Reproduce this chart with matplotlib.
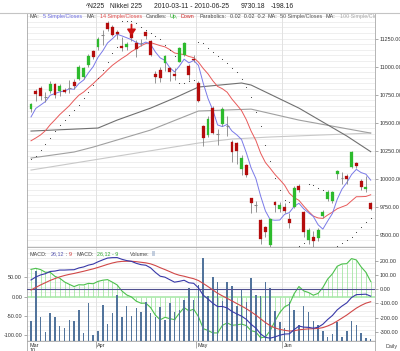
import matplotlib
matplotlib.use("Agg")
import matplotlib.pyplot as plt
import numpy as np
import pandas as pd

plt.rcParams['font.family'] = ['Liberation Sans', 'DejaVu Sans']

W, H = 400, 351
def fx(x): return x / W
def fy(y): return 1 - y / H

# ---------------- data (trading-day index 0 = 2010-03-11) ----------------
month_labels = ["Mar", "Apr", "May", "Jun"]
month_first_idx = [0, 14, 35, 53]

opens = [10620,10781,10810,10730,10780,10845,10780,10795,10810,10865,
         10888,10906,11013,11141,11175,11275,11387,11355,11310,11186,
         11177,11330,11212,11210,11311,11228,10933,10969,11029,10986,
         10930,11045,11103,11004,11070,10853,10468,10388,10630,10400,
         10490,10470,10328,10317,10082,10120,9826,9765,9629,9567,
         9406,9790,9727,9746,9640,9750,9930,9700,9450,9480,
         9465,9670,9820,9800,10037,10007,10025,10103,10135,9977,
         9906,9780]
highs = [10674,10800,10830,10770,10870,10850,10840,10810,10880,10890,
         11010,10995,11110,11150,11260,11330,11410,11370,11330,11260,
         11220,11370,11240,11250,11320,11240,10960,11000,11100,11000,
         10990,11175,11220,11020,11100,10870,10480,10560,10650,10440,
         10640,10560,10340,10330,10210,10130,9830,9800,9640,9580,
         9650,9800,9790,9780,9690,9930,9950,9710,9560,9530,
         9560,9720,9900,9890,10080,10060,10040,10250,10150,10000,
         10020,9790]
lows = [10596,10692,10700,10680,10760,10720,10740,10760,10760,10800,
        10880,10890,11000,11070,11150,11190,11320,11270,11250,11140,
        11150,11230,11087,11180,11250,11090,10850,10860,10960,10870,
        10880,11040,11090,10880,11040,10680,10290,10370,10400,10300,
        10470,10380,10150,10130,10030,10010,9692,9700,9420,9480,
        9390,9703,9700,9690,9560,9740,9880,9480,9420,9380,
        9440,9650,9800,9780,10000,9950,9950,10090,10090,9900,
        9880,9720]
closes = [10664,10751,10735,10721,10846,10744,10824,10774,10815,10828,
          10996,10986,11097,11089,11244,11286,11339,11282,11292,11168,
          11204,11251,11161,11204,11273,11102,10908,10900,11090,10949,
          10914,11165,11212,10924,11057,10695,10364,10530,10411,10394,
          10620,10462,10235,10242,10186,10030,9784,9758,9459,9522,
          9639,9762,9768,9711,9603,9914,9901,9520,9537,9439,
          9542,9705,9879,9879,10067,9999,9995,10238,10112,9923,
          9928,9730]
# closes before the window (for the 5 and 14 day averages)
pre_closes = [10400, 10352, 10199, 10102, 10126, 10172, 10222, 10253,
              10146, 10369, 10586, 10568, 10564]
# parabolic SAR dots (0.02 / 0.02 / 0.2)
parabolic = [10175,10205,10253,10311,10363,10424,10478,10525,10566,10610,
             10655,10719,10771,10839,10901,10973,11044,11117,11176,11410,
             11410,11405,11386,11355,11326,11300,11272,11243,11192,11147,
             11094,10850,10856,10871,10880,11220,11207,11165,11130,11098,
             11063,11028,10990,10950,10892,10815,10725,10590,10465,10300,
             10160,10007,9896,9805,9790,9390,9401,9423,9950,9939,
             9917,9895,9380,9390,9400,9427,9453,9478,9524,9568,
             9609,9647]
volume = [20,70,24,9,28,24,15,13,21,20,
          31,8,38,6,10,36,17,28,46,24,
          35,25,33,29,39,28,24,34,21,38,
          29,31,41,53,41,56,83,45,64,59,
          40,59,55,35,51,39,63,46,45,59,
          53,30,19,13,39,31,16,35,29,20,
          16,10,4,7,19,4,10,20,16,8,
          3,2]
# long averages (index, value)
ma50_idx = [0, 14, 18, 25, 30, 35, 44, 46, 56, 66, 71]
ma50_val = [10424, 10451, 10522, 10629, 10719, 10817, 10853, 10835, 10629, 10380, 10240]
ma100_idx = [0, 9, 13, 25, 35, 46, 56, 71]
ma100_val = [10183, 10237, 10281, 10433, 10603, 10620, 10522, 10406]
ma200_idx = [0, 35, 42, 50, 71]
ma200_val = [10076, 10317, 10353, 10371, 10406]
sell_signal_idx = [21]
# MACD start states
ema12_start, ema26_start, signal_start = 10424, 10358, -5

n = len(closes)
idx = np.arange(n)

# ---------------- derived indicators ----------------
allc = pd.Series(pre_closes + closes, dtype=float)
ma5 = allc.rolling(5).mean().values[len(pre_closes):]
ma14 = allc.rolling(14).mean().values[len(pre_closes):]

ema12, ema26 = [ema12_start], [ema26_start]
for c in closes[1:]:
    ema12.append(ema12[-1] + 2 / 13 * (c - ema12[-1]))
    ema26.append(ema26[-1] + 2 / 27 * (c - ema26[-1]))
macd = np.array(ema12) - np.array(ema26)
sig = [signal_start]
for m in macd[1:]:
    sig.append(sig[-1] + 0.2 * (m - sig[-1]))
sig = np.array(sig)
hist = macd - sig

# ---------------- figure ----------------
fig = plt.figure(figsize=(4.0, 3.51), dpi=100)
fig.patch.set_facecolor('white')
renderer = fig.canvas.get_renderer()
XL = (-0.84, 71.9)
fs_small = 3.9

def seq_text(pieces, x0, y, fs, clip=None):
    x = x0
    for t, col, gap in pieces:
        txt = fig.text(fx(x), fy(y), t, fontsize=fs, color=col, ha='left', va='center')
        if clip is not None:
            txt.set_clip_path(clip)
        bb = txt.get_window_extent(renderer)
        x = bb.x1 + gap

# title
seq_text([("^N225", '#222222', 5), ("Nikkei 225", '#222222', 12),
          ("2010-03-11 - 2010-06-25", '#222222', 12), ("9730.18", '#222222', 5),
          ("-198.16", '#222222', 0)], 86, 6.5, 4.9)
fig.add_artist(plt.Line2D([0, 1], [fy(12.7), fy(12.7)], color='#c4c4c4', lw=0.8))

# main panel
ax = fig.add_axes([fx(27), fy(247), fx(375) - fx(27), fy(13) - fy(247)])
ax.set_xlim(*XL)
ax.set_ylim(9389, 11478)
for v in range(9400, 11500, 50):
    ax.axhline(v, color='#ececec', lw=0.6, zorder=0)
for b in month_first_idx[1:]:
    ax.axvline(b - 0.5, color='#e2e2e2', lw=0.7, zorder=0)
ax.yaxis.tick_right()
ax.set_yticks(range(9500, 11251, 250))
ax.set_yticklabels([f"{v:.2f}" for v in range(9500, 11251, 250)])
ax.tick_params(axis='y', labelsize=fs_small, length=2, width=0.5, color='#888888',
               labelcolor='#333333', pad=1.5)
ax.set_xticks([])
for sp in ax.spines.values():
    sp.set_color('#a8a8a8'); sp.set_linewidth(0.6)
ax.spines['top'].set_visible(False)

ax.plot(ma200_idx, ma200_val, color='#c8c8c8', lw=0.8, zorder=1)
ax.plot(ma100_idx, ma100_val, color='#a0a0a0', lw=0.8, zorder=1)
ax.plot(ma50_idx, ma50_val, color='#707070', lw=0.8, zorder=1)
ax.plot(idx, ma14, color='#e85a5a', lw=0.7, zorder=2)
ax.plot(idx, ma5, color='#7a7ae8', lw=0.7, zorder=2)

for i in range(n):
    o, h, l, c = opens[i], highs[i], lows[i], closes[i]
    ax.vlines(i, l, h, color='#858585', lw=0.6, zorder=3)
    if abs(c - o) < 12:
        ax.hlines((o + c) / 2, i - 0.3, i + 0.3, color='#858585', lw=0.8, zorder=4)
    else:
        col = '#2dbb2d' if c > o else '#b40c0c'
        ax.bar(i, c - o, bottom=o, width=0.6, color=col, edgecolor=col, lw=0.2, zorder=4)

ax.scatter(idx, parabolic, s=0.6, color='#333333', zorder=5, linewidths=0)
for i in sell_signal_idx:
    ax.annotate('', xy=(i, highs[i] - 120), xytext=(i, highs[i] + 30),
                arrowprops=dict(arrowstyle='-|>,head_width=0.25,head_length=0.35',
                                color='#cc1111', lw=1.3), zorder=6)

# main legend
seq_text([("MA:", '#444444', 4), ("5 Simple/Closes", '#6a6ae0', 4), ("MA:", '#444444', 4),
          ("14 Simple/Closes", '#e04848', 4), ("Candles:", '#444444', 2.5),
          ("Up,", '#22aa22', 2.5), ("Down", '#cc2222', 5),
          ("Parabolics:", '#444444', 3), ("0.02  0.02  0.2", '#444444', 3),
          ("MA:", '#444444', 3), ("50 Simple/Closes", '#555555', 3),
          ("MA:", '#444444', 4), ("100 Simple/Closes", '#a8a8a8', 0)],
         29.5, 16.5, fs_small, clip=ax.patch)

# lower panel
am = fig.add_axes([fx(27), fy(341), fx(375) - fx(27), fy(247) - fy(341)])
am.set_xlim(*XL)
am.set_ylim(-115.2, 129.2)
for v in np.arange(-112.5, 129, 12.5):
    am.axhline(v, color='#ececec', lw=0.6, zorder=0)
for b in month_first_idx[1:]:
    am.axvline(b - 0.5, color='#e2e2e2', lw=0.7, zorder=0)
am.set_yticks([-100, -50, 0, 50])
am.set_yticklabels(["-100.00", "-50.00", "0.00", "50.00"])
am.tick_params(axis='y', labelsize=fs_small, length=2, width=0.5, color='#888888',
               labelcolor='#333333', pad=1.5)
am.set_xticks([b - 0.5 for b in month_first_idx[1:]])
am.set_xticklabels([])
am.tick_params(axis='x', length=5, width=0.6, color='#a0a0a0')
for sp in am.spines.values():
    sp.set_color('#a8a8a8'); sp.set_linewidth(0.6)
am.axhline(0, color='#b8ecb8', lw=1.4, zorder=1)
am.vlines(idx, 0, hist, color='#a6e6a6', lw=0.6, zorder=1)
am.plot(idx, hist, color='#4cc04c', lw=0.8, zorder=4)

av = am.twinx()
av.set_ylim(0, 94)
av.set_yticks([])
av.bar(idx, volume, width=0.32, color='#52749c', zorder=3)
for sp in av.spines.values():
    sp.set_visible(False)

ar = am.twinx()
ar.set_xlim(*XL)
ar.set_ylim(-365, 299)
ar.set_yticks(range(-300, 201, 100))
ar.set_yticklabels([f"{v:.2f}" for v in range(-300, 201, 100)])
ar.tick_params(axis='y', labelsize=fs_small, length=2, width=0.5, color='#888888',
               labelcolor='#333333', pad=1.5)
for sp in ar.spines.values():
    sp.set_visible(False)
ar.axhline(0, color='#505090', lw=0.8, zorder=2)
ar.plot(idx, sig, color='#d04848', lw=0.8, zorder=5)
ar.plot(idx, macd, color='#3838a8', lw=0.8, zorder=6)

seq_text([("MACD:", '#444444', 3), ("26,12", '#5a5ab0', 1.5), (":", '#444444', 1.5),
          ("9", '#cc3333', 5), ("MACD:", '#444444', 3), ("26,12 - 9", '#33aa33', 12),
          ("Volume:", '#444444', 2), ("|||", '#8aa0c0', 0)], 30, 254, fs_small)

# month labels
for lab, b in zip(month_labels, month_first_idx):
    pos = -0.3 if b == 0 else b - 0.2
    am.text(pos, -0.025, lab, transform=am.get_xaxis_transform(), fontsize=fs_small,
            color='#333333', ha='left', va='top')
fig.text(fx(30), fy(348.5), "10", fontsize=fs_small, color='#333333', ha='left', va='top')
fig.text(fx(385), fy(346.5), "Daily", fontsize=fs_small, color='#444444', ha='left', va='center')
fig.add_artist(plt.Line2D([fx(27), fx(27)], [fy(341), 0], color='#a8a8a8', lw=0.6))
fig.add_artist(plt.Line2D([fx(375), fx(375)], [fy(341), 0], color='#a8a8a8', lw=0.6))

fig.savefig("out.png", dpi=100, facecolor='white')
